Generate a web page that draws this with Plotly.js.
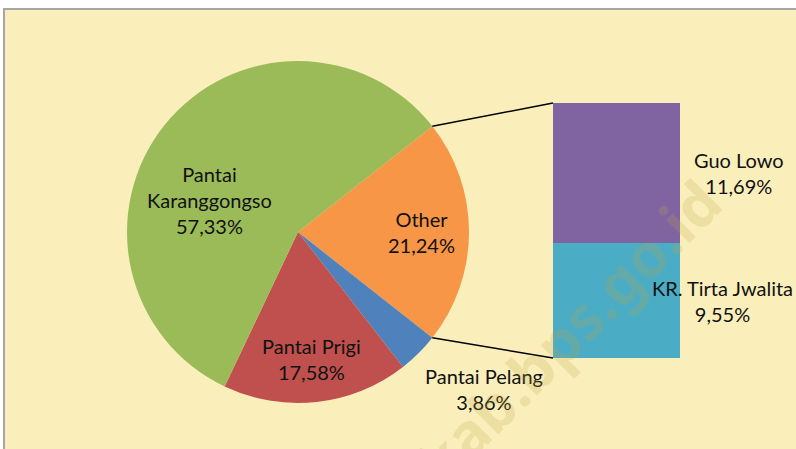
<!DOCTYPE html>
<html>
<head>
<meta charset="utf-8">
<script src="https://cdn.plot.ly/plotly-3.0.1.min.js"></script>
<style>html,body{margin:0;padding:0;background:#fff;}#chart{width:796px;height:449px;}</style>
</head>
<body>
<div id="chart"></div>
<script>
// ---- data ----
const pieLabels = ['Other', 'Pantai Pelang', 'Pantai Prigi', 'Pantai Karanggongso'];
const pieValues = [21.24, 3.86, 17.58, 57.33];
const barLabels = ['KR. Tirta Jwalita', 'Guo Lowo'];
const barValues = [9.55, 11.69];

// ---- styles ----
const pieColors = ['#F79646', '#4F81BD', '#C0504D', '#9BBB59'];
const barColors = ['#4BACC6', '#8064A2'];
const W = 796, H = 449;
const fontFam = 'Lato, "Open Sans", sans-serif';

// geometry (pixels)
const pieCx = 298, pieCy = 232, pieR = 171;
const barX0 = 553, barX1 = 680, barTop = 103, barBottom = 358;

const px = v => v / W;
const py = v => 1 - v / H;
const fmt = v => v.toFixed(2).replace('.', ',') + '%';

const total = pieValues.reduce((a, b) => a + b, 0);
const otherDeg = pieValues[0] / total * 360;
const rotation = 90 - otherDeg / 2;

// slice mid angles (clockwise from top)
let acc = rotation;
const midAngles = pieValues.map(v => { const d = v / total * 360; const m = acc + d / 2; acc += d; return m; });

// label placement (radius factor, angle nudge)
const labelPlace = [{r: 0.72, da: 0}, {r: 1.42, da: -5}, {r: 0.75, da: 0}, {r: 0.55, da: -19}];
const wrapName = n => n === 'Pantai Karanggongso' ? n.replace(' ', '<br>') : n;

const annotations = [];
pieLabels.forEach((name, i) => {
  const a = (midAngles[i] + labelPlace[i].da) * Math.PI / 180;
  const r = pieR * labelPlace[i].r;
  const x = pieCx + r * Math.sin(a), y = pieCy - r * Math.cos(a);
  annotations.push({xref: 'paper', yref: 'paper', x: px(x), y: py(y), xanchor: 'center', yanchor: 'middle',
    text: wrapName(name) + '<br>' + fmt(pieValues[i]), showarrow: false,
    font: {family: fontFam, size: 20, color: '#111'}});
});

const barLabelX = [722, 739];
let cum = 0;
barLabels.forEach((name, i) => {
  const mid = cum + barValues[i] / 2; cum += barValues[i];
  annotations.push({xref: 'paper', yref: 'y', x: px(barLabelX[i]), y: mid, xanchor: 'center', yanchor: 'middle',
    text: name + '<br>' + fmt(barValues[i]), showarrow: false,
    font: {family: fontFam, size: 20, color: '#111'}});
});

// watermark
annotations.push({xref: 'paper', yref: 'paper', x: px(452), y: py(448), xanchor: 'center', yanchor: 'middle',
  text: '<b>trenggalekkab.bps.go.id</b>', textangle: -45, showarrow: false,
  font: {family: 'Noto Sans, sans-serif', size: 60, color: 'rgba(190,165,70,0.22)'}});

// connector lines from pie edge (start/end of first slice) to bar corners
const a0 = rotation * Math.PI / 180, a1 = (rotation + otherDeg) * Math.PI / 180;
const p0 = [pieCx + pieR * Math.sin(a0), pieCy - pieR * Math.cos(a0)];
const p1 = [pieCx + pieR * Math.sin(a1), pieCy - pieR * Math.cos(a1)];

const shapes = [
  {type: 'rect', xref: 'paper', yref: 'paper', x0: px(4), x1: px(W + 5), y0: py(H + 5), y1: py(9), layer: 'below',
   fillcolor: '#FAEFBB', line: {color: '#A6A6A6', width: 2}},
  {type: 'line', xref: 'paper', yref: 'paper', x0: px(p0[0]), y0: py(p0[1]), x1: px(barX0), y1: py(barTop),
   line: {color: '#000', width: 1.5}},
  {type: 'line', xref: 'paper', yref: 'paper', x0: px(p1[0]), y0: py(p1[1]), x1: px(barX0), y1: py(barBottom),
   line: {color: '#000', width: 1.5}}
];

const traces = [
  {type: 'pie', labels: pieLabels, values: pieValues, sort: false, direction: 'clockwise', rotation: rotation,
   marker: {colors: pieColors, line: {width: 0}}, textinfo: 'none', hoverinfo: 'label+percent',
   domain: {x: [px(pieCx - pieR), px(pieCx + pieR)], y: [py(pieCy + pieR), py(pieCy - pieR)]}, showlegend: false}
];
barLabels.forEach((name, i) => {
  traces.push({type: 'bar', x: ['Other'], y: [barValues[i]], name: name, marker: {color: barColors[i], line: {width: 0}},
    width: 1, showlegend: false, hoverinfo: 'name+y'});
});

const barTotal = barValues.reduce((a, b) => a + b, 0);
const layout = {
  width: W, height: H, margin: {l: 0, r: 0, t: 0, b: 0},
  paper_bgcolor: '#FFFFFF', plot_bgcolor: 'rgba(0,0,0,0)',
  barmode: 'stack', bargap: 0, showlegend: false,
  xaxis: {domain: [px(barX0), px(barX1)], range: [-0.5, 0.5], visible: false, fixedrange: true},
  yaxis: {domain: [py(barBottom), py(barTop)], range: [0, barTotal], visible: false, fixedrange: true},
  shapes: shapes, annotations: annotations
};

Plotly.newPlot('chart', traces, layout, {displayModeBar: false, staticPlot: true});
</script>
</body>
</html>
